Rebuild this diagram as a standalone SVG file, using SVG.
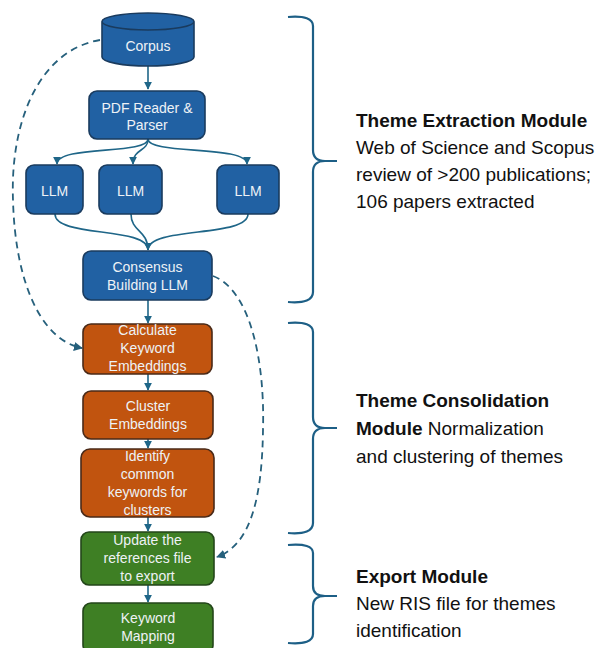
<svg xmlns="http://www.w3.org/2000/svg" width="602" height="648" viewBox="0 0 602 648">
<defs>
<style>
.node text{font-family:"Liberation Sans",Arial,sans-serif;font-size:14px;fill:#eef2f6;text-anchor:middle}
.blue{fill:#2161a3;stroke:#1a3b5e;stroke-width:1.6}
.orange{fill:#c1540f;stroke:#4a2a18;stroke-width:1.6}
.green{fill:#3e7f24;stroke:#23461a;stroke-width:1.6}
.conn{fill:none;stroke:#1f6688;stroke-width:1.6}
.dash{fill:none;stroke:#26607c;stroke-width:1.8;stroke-dasharray:7,5}
.brace{fill:none;stroke:#1d5f86;stroke-width:2.2}
.lbl{font-family:"Liberation Sans",Arial,sans-serif;font-size:19px;fill:#111}
.lbl .b{font-weight:bold}
</style>
<marker id="ah" viewBox="0 0 10 10" refX="9" refY="5" markerWidth="5" markerHeight="5" orient="auto-start-reverse" markerUnits="strokeWidth">
<path d="M0,0 L10,5 L0,10 z" fill="#1f6688"/>
</marker>
<marker id="ahd" viewBox="0 0 10 10" refX="9" refY="5" markerWidth="5" markerHeight="5" orient="auto-start-reverse" markerUnits="strokeWidth">
<path d="M0,0 L10,5 L0,10 z" fill="#26607c"/>
</marker>
</defs>
<rect width="602" height="648" fill="#fff"/>
<g id="connectors">
<path class="conn" d="M148,66 L148,89" marker-end="url(#ah)"/>
<path class="conn" d="M148,139 C148,155 57,145 57,164" marker-end="url(#ah)"/>
<path class="conn" d="M148,139 C148,152 133,148 133,164" marker-end="url(#ah)"/>
<path class="conn" d="M148,139 C148,155 247,145 247,164" marker-end="url(#ah)"/>
<path class="conn" d="M55,214 C55,238 148,226 148,250" marker-end="url(#ah)"/>
<path class="conn" d="M131,214 C131,232 148,230 148,250"/>
<path class="conn" d="M248,214 C248,238 148,226 148,250"/>
<path class="conn" d="M148,300 L148,323" marker-end="url(#ah)"/>
<path class="conn" d="M148,374 L148,390" marker-end="url(#ah)"/>
<path class="conn" d="M148,439 L148,448" marker-end="url(#ah)"/>
<path class="conn" d="M148,517 L148,531" marker-end="url(#ah)"/>
<path class="conn" d="M148,585 L148,602" marker-end="url(#ah)"/>
<path class="dash" d="M100,40 C40,50 10,120 13,200 C15,280 40,340 82,348" marker-end="url(#ahd)"/>
<path class="dash" d="M213,276 C250,290 265,360 263,430 C262,500 250,545 217,557" marker-end="url(#ahd)"/>
</g>
<g id="corpus" class="node">
<path class="blue" d="M102,21.5 L102,57 A46,9 0 0 0 194,57 L194,21.5 A46,8.5 0 0 0 102,21.5 A46,8.5 0 0 0 194,21.5"/>
<text x="148" y="51">Corpus</text>
</g>
<g id="pdf" class="node">
<rect class="blue" x="89" y="91" width="116" height="48" rx="8"/>
<text x="147" y="113">PDF Reader &amp;</text>
<text x="147" y="130">Parser</text>
</g>
<g id="llm1" class="node">
<rect class="blue" x="26" y="165" width="57" height="49" rx="8"/>
<text x="54.5" y="196">LLM</text>
</g>
<g id="llm2" class="node">
<rect class="blue" x="99" y="165" width="63" height="49" rx="8"/>
<text x="130.5" y="196">LLM</text>
</g>
<g id="llm3" class="node">
<rect class="blue" x="217" y="165" width="62" height="49" rx="8"/>
<text x="248" y="196">LLM</text>
</g>
<g id="consensus" class="node">
<rect class="blue" x="83" y="251" width="129" height="49" rx="8"/>
<text x="147.5" y="272">Consensus</text>
<text x="147.5" y="290">Building LLM</text>
</g>
<g id="calc" class="node">
<rect class="orange" x="83" y="324" width="129" height="50" rx="8"/>
<text x="147.5" y="335">Calculate</text>
<text x="147.5" y="353">Keyword</text>
<text x="147.5" y="371">Embeddings</text>
</g>
<g id="cluster" class="node">
<rect class="orange" x="83" y="391" width="130" height="48" rx="8"/>
<text x="148" y="411">Cluster</text>
<text x="148" y="429">Embeddings</text>
</g>
<g id="identify" class="node">
<rect class="orange" x="81" y="449" width="133" height="68" rx="9"/>
<text x="147.5" y="461">Identify</text>
<text x="147.5" y="479">common</text>
<text x="147.5" y="497">keywords for</text>
<text x="147.5" y="515">clusters</text>
</g>
<g id="update" class="node">
<rect class="green" x="81" y="532" width="133" height="53" rx="8"/>
<text x="147.5" y="545">Update the</text>
<text x="147.5" y="563">references file</text>
<text x="147.5" y="581">to export</text>
</g>
<g id="mapping" class="node">
<rect class="green" x="83" y="603" width="130" height="50" rx="8"/>
<text x="148" y="623">Keyword</text>
<text x="148" y="641">Mapping</text>
</g>
<g id="brace1">
<path class="brace" d="M288,17 Q313,15 313,26 L313,150 Q313,161 325,161 L337,161 M325,161 Q313,161 313,172 L313,292 Q313,304 288,302"/>
<text class="lbl" x="356" y="127"><tspan class="b">Theme Extraction Module</tspan><tspan x="356" y="154">Web of Science and Scopus</tspan><tspan x="356" y="181">review of &gt;200 publications;</tspan><tspan x="356" y="208">106 papers extracted</tspan></text>
</g>
<g id="brace2">
<path class="brace" d="M288,323 Q313,321 313,332 L313,417 Q313,428 325,428 L337,428 M325,428 Q313,428 313,439 L313,523 Q313,535 288,533"/>
<text class="lbl" x="356" y="407"><tspan class="b">Theme Consolidation</tspan><tspan x="356" y="435"><tspan class="b">Module</tspan> Normalization</tspan><tspan x="356" y="463">and clustering of themes</tspan></text>
</g>
<g id="brace3">
<path class="brace" d="M288,545 Q313,543 313,553 L313,586 Q313,596 325,596 L337,596 M325,596 Q313,596 313,606 L313,634 Q313,645 288,643"/>
<text class="lbl" x="356" y="583"><tspan class="b">Export Module</tspan><tspan x="356" y="610">New RIS file for themes</tspan><tspan x="356" y="637">identification</tspan></text>
</g>
</svg>
